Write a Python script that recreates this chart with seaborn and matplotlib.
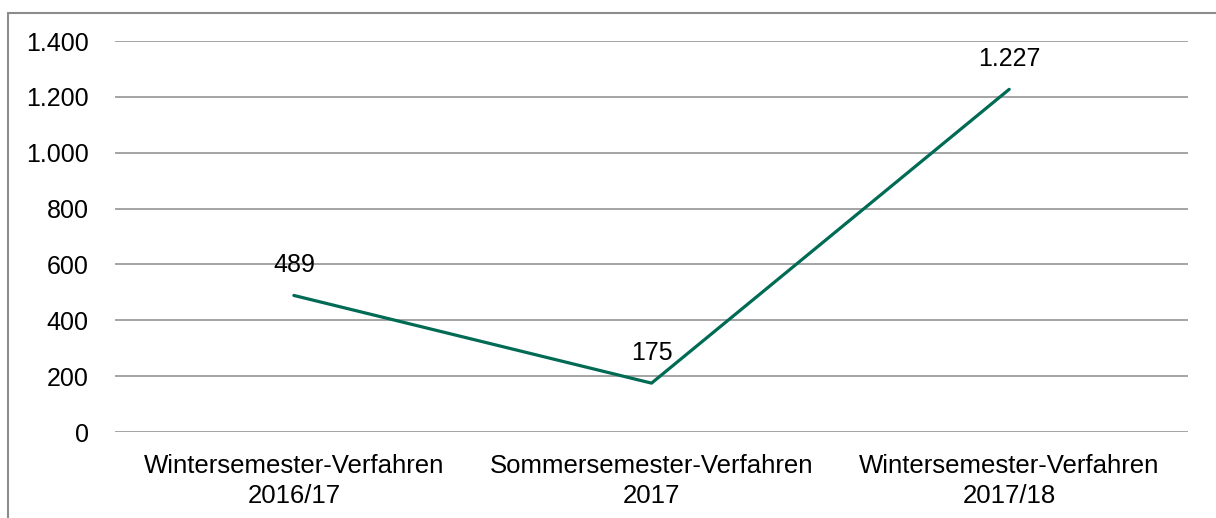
import matplotlib
matplotlib.use("Agg")
import matplotlib.pyplot as plt
import seaborn as sns
import pandas as pd
from matplotlib.lines import Line2D

# Daten
verfahren = ["Wintersemester-Verfahren\n2016/17",
             "Sommersemester-Verfahren\n2017",
             "Wintersemester-Verfahren\n2017/18"]
anzahl = [489, 175, 1227]
y_ticks = [0, 200, 400, 600, 800, 1000, 1200, 1400]


def de_format(v):
    # deutsches Tausendertrennzeichen
    return "{:,.0f}".format(v).replace(",", ".")


sns.set_theme(style="white")
plt.rcParams["font.family"] = ["Liberation Sans", "DejaVu Sans"]

df = pd.DataFrame({"Verfahren": verfahren, "Anzahl": anzahl})

fig = plt.figure(figsize=(12.16, 5.18), dpi=100)
ax = fig.add_axes([0.0946, 0.166, 0.8824, 0.7548])

sns.lineplot(data=df, x="Verfahren", y="Anzahl", color="#006B54",
             linewidth=2.3, ax=ax, sort=False)

for i, v in enumerate(anzahl):
    ax.annotate(de_format(v), (i, v), xytext=(0, 13), textcoords="offset points",
                ha="center", va="bottom", fontsize=18, color="black")

ax.set_xlim(-0.5, 2.5)
ax.set_ylim(0, 1400)
ax.set_yticks(y_ticks)
ax.set_yticklabels([de_format(t) for t in y_ticks])
ax.yaxis.grid(True, color="#8c8c8c", linewidth=1.1)
ax.set_axisbelow(True)
ax.set_xlabel("")
ax.set_ylabel("")
for s in ax.spines.values():
    s.set_visible(False)
ax.tick_params(axis="y", length=0, pad=19, labelsize=18, labelcolor="black")
ax.tick_params(axis="x", length=0, pad=16, labelsize=18.5, labelcolor="black")
for lbl in ax.get_xticklabels():
    lbl.set_linespacing(1.3)

# Rahmen
fig.add_artist(Line2D([0.0066, 0.0066], [0.0, 0.975], transform=fig.transFigure,
                      color="#8c8c8c", linewidth=1.5))
fig.add_artist(Line2D([0.0066, 1.0], [0.975, 0.975], transform=fig.transFigure,
                      color="#8c8c8c", linewidth=1.5))

plt.savefig("out.png", dpi=100)
